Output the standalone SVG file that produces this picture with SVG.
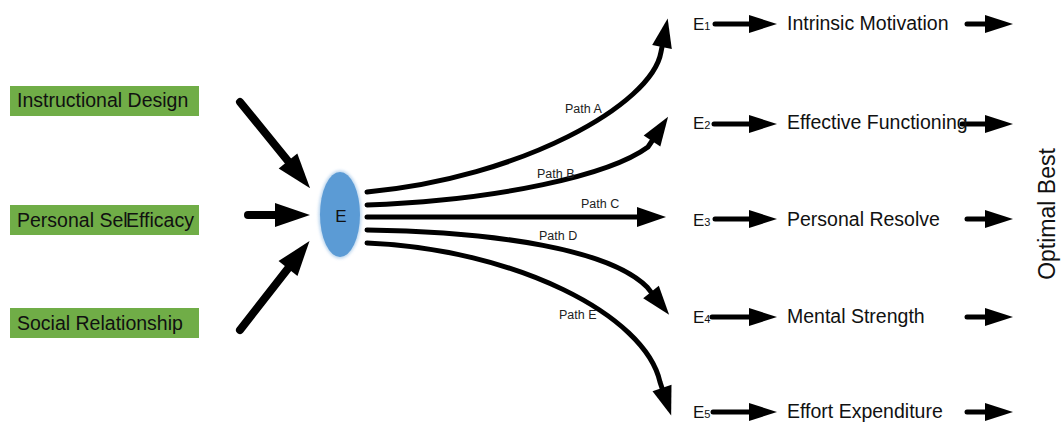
<svg xmlns="http://www.w3.org/2000/svg" width="1061" height="422" viewBox="0 0 1061 422">
  <style>
    .box { fill: #70AD47; }
    .lbl { font-family: "Liberation Sans", Arial, sans-serif; font-size: 19.5px; fill: #111; }
    .elbl { font-family: "Liberation Sans", Arial, sans-serif; font-size: 17px; fill: #111; }
    .sub { font-size: 11px; }
    .plbl { font-family: "Liberation Sans", Arial, sans-serif; font-size: 12.5px; fill: #222; }
    .big { fill: none; stroke: #000; stroke-width: 8; stroke-linecap: round; marker-end: url(#headBig); }
    .path { fill: none; stroke: #000; stroke-width: 5; stroke-linecap: round; marker-end: url(#headMid); }
    .small { fill: none; stroke: #000; stroke-width: 5; stroke-linecap: round; marker-end: url(#headSmall); }
  </style>
  <defs>
    <marker id="headBig" markerUnits="userSpaceOnUse" markerWidth="36" markerHeight="26" refX="0" refY="12" orient="auto" overflow="visible">
      <path d="M0,0 L35,12 L0,24 z" fill="#000"/>
    </marker>
    <marker id="headMid" markerUnits="userSpaceOnUse" markerWidth="30" markerHeight="21" refX="0" refY="10" orient="auto" overflow="visible">
      <path d="M0,0 L29,10 L0,20 z" fill="#000"/>
    </marker>
    <marker id="headSmall" markerUnits="userSpaceOnUse" markerWidth="30" markerHeight="20" refX="0" refY="9" orient="auto" overflow="visible">
      <path d="M0,0 L28,9 L0,18 z" fill="#000"/>
    </marker>
    <filter id="glow" x="-50%" y="-50%" width="200%" height="200%">
      <feGaussianBlur stdDeviation="1.5"/>
    </filter>
  </defs>

  <g id="node-instructional-design">
    <rect class="box" x="10" y="86" width="189" height="30"/>
    <text class="lbl" x="17" y="106.5">Instructional Design</text>
  </g>
  <g id="node-personal-self-efficacy">
    <rect class="box" x="10" y="205" width="189" height="30"/>
    <text class="lbl" x="17" y="226.5">Personal Sel<tspan x="126">Efficacy</tspan></text>
  </g>
  <g id="node-social-relationship">
    <rect class="box" x="10" y="308" width="189" height="30"/>
    <text class="lbl" x="17" y="330">Social Relationship</text>
  </g>

  <g id="node-E">
    <ellipse cx="340" cy="214.5" rx="21.5" ry="44" fill="#9DC3E6" opacity="0.7" filter="url(#glow)"/>
    <ellipse cx="340" cy="214.5" rx="20" ry="42.5" fill="#5B9BD5"/>
    <text class="elbl" x="341" y="222" text-anchor="middle">E</text>
  </g>

  <g id="connectors">
    <line class="big" x1="240" y1="102" x2="288" y2="161"/>
    <line class="big" x1="248" y1="215" x2="275" y2="215"/>
    <line class="big" x1="240" y1="330" x2="288" y2="268.5"/>

    <path class="path" d="M367,192 C520,178 652,105 661,52 L662,47"/>
    <path class="path" d="M367,205 C500,200 610,175 648,147 L652,141"/>
    <path class="path" d="M367,217 L637,217"/>
    <path class="path" d="M367,230 C500,232 610,250 647,287 L651,292"/>
    <path class="path" d="M367,243 C515,249 645,315 660,382 L662,388"/>

    <line class="small" x1="715" y1="24" x2="749" y2="24"/>
    <line class="small" x1="714" y1="124" x2="749" y2="124"/>
    <line class="small" x1="715" y1="219" x2="749" y2="219"/>
    <line class="small" x1="712" y1="317" x2="749" y2="317"/>
    <line class="small" x1="713" y1="412" x2="749" y2="412"/>

    <line class="small" x1="967" y1="24" x2="985" y2="24"/>
    <line class="small" x1="962" y1="124" x2="985" y2="124"/>
    <line class="small" x1="967" y1="219" x2="985" y2="219"/>
    <line class="small" x1="967" y1="317" x2="985" y2="317"/>
    <line class="small" x1="967" y1="412" x2="985" y2="412"/>

    <text class="plbl" x="565" y="112.5">Path A</text>
    <text class="plbl" x="537" y="177.5">Path B</text>
    <text class="plbl" x="581" y="208">Path C</text>
    <text class="plbl" x="539" y="240">Path D</text>
    <text class="plbl" x="559" y="319">Path E</text>
  </g>

  <g id="node-E1">
    <text class="elbl" x="693" y="30">E<tspan class="sub">1</tspan></text>
    <text class="lbl" x="787" y="30">Intrinsic Motivation</text>
  </g>
  <g id="node-E2">
    <text class="elbl" x="693" y="129">E<tspan class="sub">2</tspan></text>
    <text class="lbl" x="787" y="129">Effective Functioning</text>
  </g>
  <g id="node-E3">
    <text class="elbl" x="693" y="225.5">E<tspan class="sub">3</tspan></text>
    <text class="lbl" x="787" y="225.5">Personal Resolve</text>
  </g>
  <g id="node-E4">
    <text class="elbl" x="693" y="323">E<tspan class="sub">4</tspan></text>
    <text class="lbl" x="787" y="323">Mental Strength</text>
  </g>
  <g id="node-E5">
    <text class="elbl" x="693" y="418">E<tspan class="sub">5</tspan></text>
    <text class="lbl" x="787" y="418">Effort Expenditure</text>
  </g>

  <g id="node-optimal-best">
    <text class="lbl" style="font-size:23px" transform="translate(1055,214) rotate(-90)" text-anchor="middle">Optimal Best</text>
  </g>
</svg>
